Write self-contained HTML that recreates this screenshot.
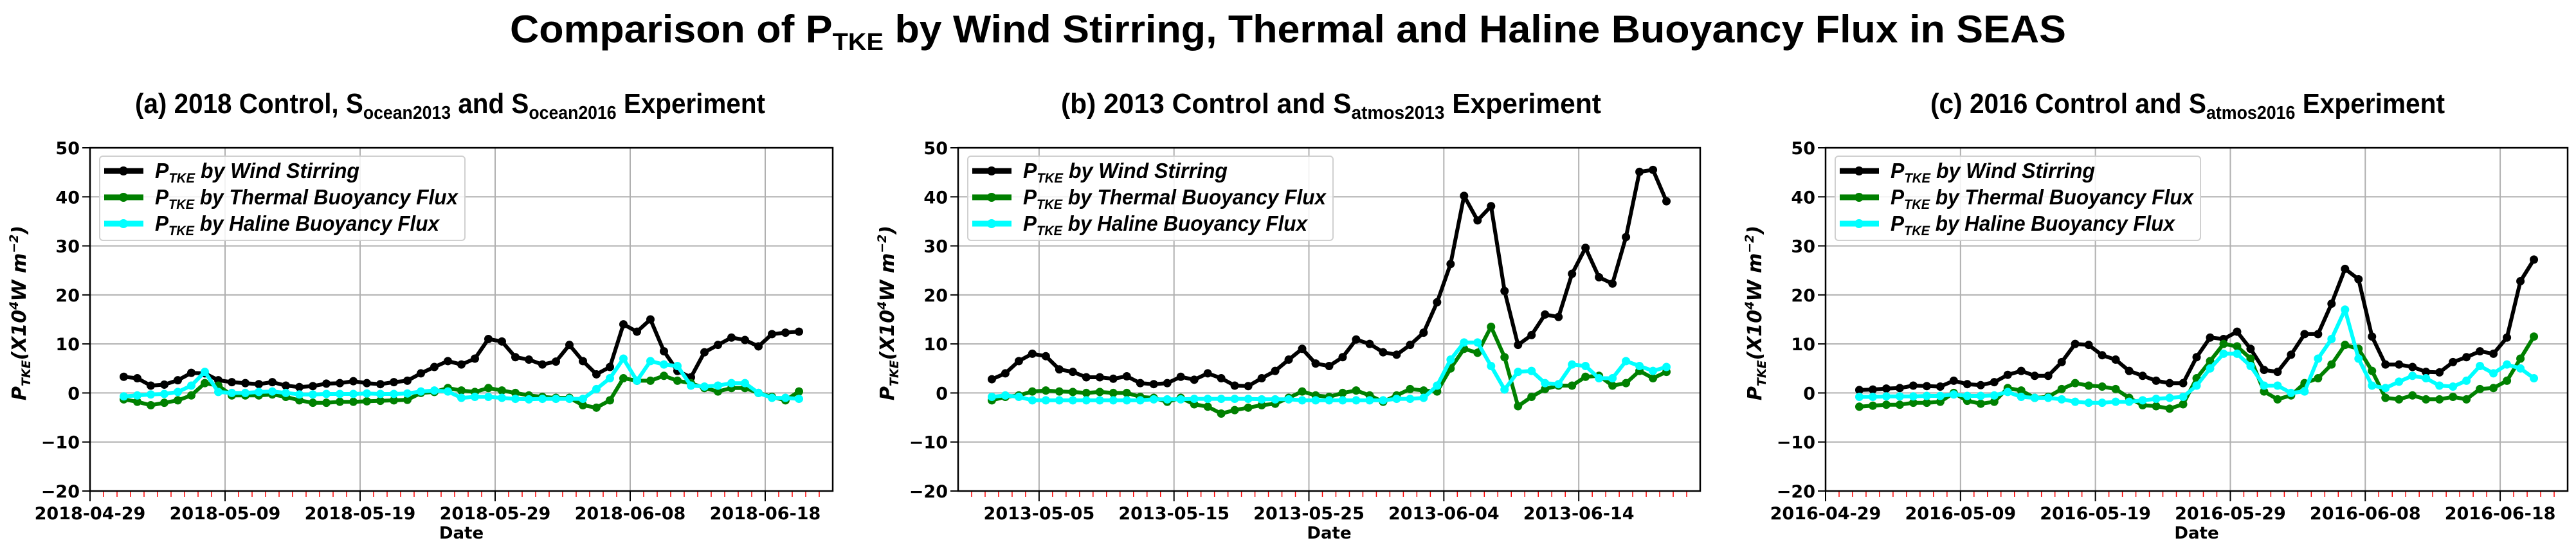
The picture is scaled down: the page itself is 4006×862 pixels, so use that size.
<!DOCTYPE html>
<html><head><meta charset="utf-8"><style>
html,body{margin:0;padding:0;background:#fff;}
svg{display:block;}
</style></head><body>
<svg id="chart" width="4006" height="862" viewBox="0 0 4006 862" xmlns="http://www.w3.org/2000/svg">
<text x="2003" y="66" text-anchor="middle" font-family="Liberation Sans Narrow, Liberation Sans, sans-serif" font-weight="bold" font-size="60" textLength="2420" lengthAdjust="spacingAndGlyphs">Comparison of P<tspan font-size="38" dy="12">TKE</tspan><tspan dy="-12"> by Wind Stirring, Thermal and Haline Buoyancy Flux in SEAS</tspan></text>
</svg>
<script>
const panelTitles=["(a) 2018 Control, S|ocean2013| and S|ocean2016| Experiment","(b) 2013 Control and S|atmos2013| Experiment","(c) 2016 Control and S|atmos2016| Experiment"];
const startDates=["2018-04-29","2013-04-29","2016-04-29"];
const yTicks=[-20,-10,0,10,20,30,40,50];
const windA=[3.3,3.0,1.5,1.7,2.6,4.1,4.0,2.6,2.2,2.0,1.8,2.2,1.5,1.2,1.4,1.9,2.0,2.4,2.0,1.8,2.2,2.5,4.0,5.3,6.5,5.8,7.0,11.0,10.5,7.3,6.8,5.8,6.4,9.8,6.5,3.8,5.3,14.0,12.5,15.0,8.5,4.5,3.2,8.3,9.8,11.3,10.8,9.5,12.0,12.3,12.5];
const thermA=[-1.3,-1.8,-2.5,-2.0,-1.5,-0.5,2.0,1.5,-0.5,-0.5,-0.5,-0.3,-0.8,-1.5,-2.0,-2.0,-1.8,-1.8,-1.7,-1.6,-1.5,-1.4,0,0.2,1.0,0.5,0.2,1.0,0.5,0,-0.5,-0.8,-1.0,-1.0,-2.5,-3.0,-1.5,3.0,2.5,2.5,3.5,2.5,2.0,1.0,0.3,1.0,1.0,0,-0.8,-1.5,0.3];
const halA=[-0.7,-0.5,-0.3,-0.2,0.2,1.5,4.3,0.2,0,0,0.2,0.3,0,-0.3,-0.3,-0.2,-0.2,-0.2,-0.1,-0.2,-0.2,-0.1,0.3,0.5,0.3,-1.0,-0.8,-0.8,-1.0,-1.2,-1.3,-1.2,-1.2,-1.2,-1.2,0.8,3.0,7.0,2.5,6.5,5.8,5.5,1.5,1.3,1.5,2.0,2.0,0,-1.0,-1.0,-1.2];
const windB=[2.8,4.0,6.5,8.0,7.5,4.8,4.3,3.2,3.2,2.9,3.4,2.0,1.8,2.0,3.3,2.7,4.0,3.0,1.5,1.4,3.0,4.5,6.8,9.0,6.0,5.5,7.3,10.9,10.0,8.3,7.8,9.8,12.3,18.5,26.3,40.2,35.2,38.1,20.8,9.8,11.8,16.0,15.5,24.3,29.6,23.6,22.3,31.8,45.1,45.5,39.1];
const thermB=[-1.5,-0.8,-0.5,0.3,0.5,0.3,0.2,0,0.2,0,0,-0.8,-1.0,-1.8,-1.0,-2.3,-2.8,-4.2,-3.5,-3.0,-2.5,-2.2,-1.0,0.3,-0.5,-0.8,0,0.5,-0.5,-1.8,-0.5,0.8,0.5,0.3,5.0,9.0,8.2,13.5,7.3,-2.7,-0.8,0.8,1.5,1.5,3.3,3.5,1.5,2.0,4.5,3.0,4.3];
const halB=[-0.8,-0.5,-0.8,-1.5,-1.5,-1.5,-1.5,-1.5,-1.5,-1.5,-1.5,-1.5,-1.3,-1.3,-1.3,-1.2,-1.2,-1.2,-1.2,-1.2,-1.3,-1.3,-1.3,-1.5,-1.5,-1.5,-1.5,-1.5,-1.5,-1.5,-1.2,-1.2,-1.0,1.5,6.8,10.3,10.3,5.5,0.7,4.3,4.5,2.0,1.8,5.8,5.5,3.0,3.0,6.5,5.5,4.5,5.3];
const windC=[0.6,0.7,0.9,1.0,1.5,1.4,1.3,2.5,1.8,1.6,2.2,3.7,4.5,3.5,3.5,6.3,10.0,9.8,7.7,6.8,4.5,3.5,2.5,2.0,2.0,7.3,11.3,11.0,12.5,9.0,4.7,4.3,7.8,12.0,12.0,18.2,25.3,23.2,11.5,5.8,5.8,5.3,4.3,4.2,6.3,7.3,8.5,8.0,11.3,22.8,27.2];
const thermC=[-2.8,-2.6,-2.4,-2.4,-2.0,-2.0,-1.8,0,-1.6,-2.2,-1.8,1.0,0.5,-1.0,-0.8,0.8,2.0,1.5,1.3,0.8,-1.0,-2.5,-2.7,-3.2,-2.3,3.0,6.5,10.0,9.5,7.0,0.3,-1.3,-0.5,2.0,3.0,5.8,9.8,9.0,4.5,-1.0,-1.3,-0.5,-1.3,-1.3,-0.8,-1.3,0.8,1.0,2.5,7.0,11.5];
const halC=[-0.8,-0.8,-0.7,-0.7,-0.7,-0.6,-0.6,-0.3,-0.6,-0.6,-0.5,0.2,-0.8,-1.0,-1.0,-1.3,-1.8,-2.0,-2.0,-1.8,-1.8,-1.5,-1.2,-1.0,-0.8,1.5,5.0,8.0,8.0,5.5,1.5,1.5,0,0.3,7.0,11.0,17.0,7.0,1.5,1.0,2.3,3.5,3.0,1.5,1.3,2.5,5.5,4.0,5.8,5.0,3.0];
const legendLabels=["by Wind Stirring","by Thermal Buoyancy Flux","by Haline Buoyancy Flux"];
const seriesColors=["#000000","#008000","#00ffff"];

const NS="http://www.w3.org/2000/svg";
const svg=document.getElementById('chart');
function mk(tag,attrs,parent){const e=document.createElementNS(NS,tag);for(const k in attrs)e.setAttribute(k,attrs[k]);(parent||svg).appendChild(e);return e;}
const panels=[{L:140,R:1295,data:[windA,thermA,halA],tx:210,tw:980},{L:1490,R:2644,data:[windB,thermB,halB],tx:1650,tw:840},{L:2839,R:3993,data:[windC,thermC,halC],tx:3002,tw:800}];
const TOP=230,BOT=764,YMIN=-20,YMAX=50,DAYS=55,START=2.5;
function addDays(s,d){const t=new Date(s+"T00:00:00Z");t.setUTCDate(t.getUTCDate()+d);return t.toISOString().slice(0,10);}
panels.forEach((p,pi)=>{
  const g=mk('g',{});
  
  
  const xs=d=>p.L+(d/DAYS)*(p.R-p.L);
  const ys=v=>BOT-(v-YMIN)/(YMAX-YMIN)*(BOT-TOP);
  const parts=panelTitles[pi].split('|');
  const tt=mk('text',{x:p.tx,y:176,'font-family':'Liberation Sans Narrow, Liberation Sans, sans-serif','font-weight':'bold','font-size':'44',textLength:p.tw,lengthAdjust:'spacingAndGlyphs'},g);
  
  
  parts.forEach((s,i)=>{const ts=mk('tspan',{},tt);if(i%2===1){ts.setAttribute('font-size','29');ts.setAttribute('dy','9');}else if(i>0){ts.setAttribute('dy','-9');}ts.textContent=s;});
  yTicks.forEach(v=>{
    const y=ys(v);
    if(v>YMIN&&v<YMAX)mk('line',{x1:p.L,x2:p.R,y1:y,y2:y,stroke:'#b0b0b0','stroke-width':2},g);
    mk('line',{x1:p.L-12,x2:p.L,y1:y,y2:y,stroke:'#000','stroke-width':2},g);
    const t=mk('text',{x:p.L-16,y:y+10,'text-anchor':'end','font-family':'DejaVu Sans, sans-serif','font-weight':'bold','font-size':'27'},g);
    
    
    t.textContent=(v<0?'\u2212'+(-v):v);
  });
  const off=pi===1?6:0;
  for(let d=1;d<DAYS;d++){ if((d-off)%10===0)continue; const x=xs(d); mk('line',{x1:x,x2:x,y1:BOT,y2:BOT+9,stroke:'#ff0000','stroke-width':1.5},g);}
  for(let d=off;d<DAYS;d+=10){
    const x=xs(d);
    if(d>0)mk('line',{x1:x,x2:x,y1:TOP,y2:BOT,stroke:'#b0b0b0','stroke-width':2},g);
    mk('line',{x1:x,x2:x,y1:BOT,y2:BOT+16,stroke:'#000','stroke-width':2},g);
    const t=mk('text',{x:x,y:808,'text-anchor':'middle','font-family':'DejaVu Sans, sans-serif','font-weight':'bold','font-size':'27'},g);
    
    
    t.textContent=addDays(startDates[pi],d);
  }
  mk('rect',{x:p.L,y:TOP,width:p.R-p.L,height:BOT-TOP,fill:'none',stroke:'#000','stroke-width':2.5},g);
  const xl=mk('text',{x:(p.L+p.R)/2,y:838,'text-anchor':'middle','font-family':'DejaVu Sans, sans-serif','font-weight':'bold','font-size':'26'},g);
  
  
  xl.textContent='Date';
  const yl=mk('text',{transform:`translate(${p.L-100},${(TOP+BOT)/2-10}) rotate(-90)`,'text-anchor':'middle','font-family':'DejaVu Sans, sans-serif','font-weight':'bold','font-style':'italic','font-size':'30'},g);
  
  
  yl.innerHTML='P<tspan font-size="19" dy="7">TKE</tspan><tspan dy="-7">(X10</tspan><tspan font-size="19" dy="-12">4</tspan><tspan dy="12">W   m</tspan><tspan font-size="19" dy="-12">\u22122</tspan><tspan dy="12">)</tspan>';
  p.data.forEach((arr,si)=>{
    const pts=arr.map((v,i)=>xs(START+i).toFixed(1)+','+ys(v).toFixed(1)).join(' ');
    const pl=mk('polyline',{points:pts,fill:'none',stroke:seriesColors[si],'stroke-width':6,'stroke-linejoin':'round'},g);
    
    
    arr.forEach((v,i)=>{const c=mk('circle',{cx:xs(START+i),cy:ys(v),r:6.5,fill:seriesColors[si]},g);
      
      });
  });
  const lx=p.L+15;
  const lg=mk('g',{},g);
  
  
  mk('rect',{x:lx,y:243,width:568,height:131,rx:5,fill:'#fff','fill-opacity':0.85,stroke:'#d0d0d0','stroke-width':2},lg);
  legendLabels.forEach((lab,si)=>{
    const y=266+si*41;
    mk('line',{x1:lx+7,x2:lx+68,y1:y,y2:y,stroke:seriesColors[si],'stroke-width':9},lg);
    mk('circle',{cx:lx+37,cy:y,r:7,fill:seriesColors[si]},lg);
    const t=mk('text',{x:lx+86,y:y+11,'font-family':'Liberation Sans Narrow, Liberation Sans, sans-serif','font-weight':'bold','font-style':'italic','font-size':'33'},lg);
    
    
    t.setAttribute('textLength',[318,471,442][si]);
    t.setAttribute('lengthAdjust','spacingAndGlyphs');
    t.innerHTML='P<tspan font-size="21" dy="7">TKE</tspan><tspan dy="-7"> '+lab+'</tspan>';
  });
});
</script>
</body></html>
